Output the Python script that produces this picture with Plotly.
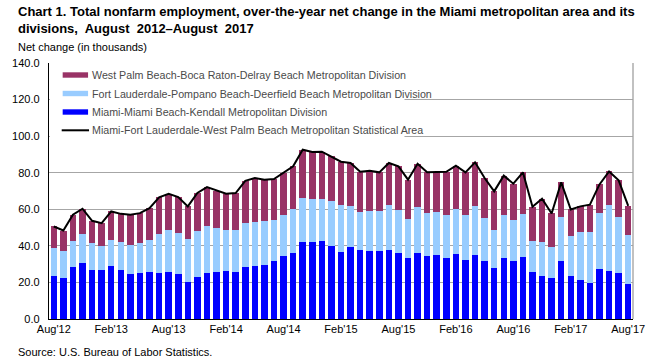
import plotly.graph_objects as go

months = [
    "Aug 2012", "Sep 2012", "Oct 2012", "Nov 2012", "Dec 2012",
    "Jan 2013", "Feb 2013", "Mar 2013", "Apr 2013", "May 2013", "Jun 2013", "Jul 2013",
    "Aug 2013", "Sep 2013", "Oct 2013", "Nov 2013", "Dec 2013",
    "Jan 2014", "Feb 2014", "Mar 2014", "Apr 2014", "May 2014", "Jun 2014", "Jul 2014",
    "Aug 2014", "Sep 2014", "Oct 2014", "Nov 2014", "Dec 2014",
    "Jan 2015", "Feb 2015", "Mar 2015", "Apr 2015", "May 2015", "Jun 2015", "Jul 2015",
    "Aug 2015", "Sep 2015", "Oct 2015", "Nov 2015", "Dec 2015",
    "Jan 2016", "Feb 2016", "Mar 2016", "Apr 2016", "May 2016", "Jun 2016", "Jul 2016",
    "Aug 2016", "Sep 2016", "Oct 2016", "Nov 2016", "Dec 2016",
    "Jan 2017", "Feb 2017", "Mar 2017", "Apr 2017", "May 2017", "Jun 2017", "Jul 2017",
    "Aug 2017",
]

tick_months = ["Aug 2012", "Feb 2013", "Aug 2013", "Feb 2014", "Aug 2014", "Feb 2015",
               "Aug 2015", "Feb 2016", "Aug 2016", "Feb 2017", "Aug 2017"]
tick_labels = ["Aug'12", "Feb'13", "Aug'13", "Feb'14", "Aug'14", "Feb'15",
               "Aug'15", "Feb'16", "Aug'16", "Feb'17", "Aug'17"]

miami = [23.7, 22.6, 28.7, 30.7, 26.8, 26.8, 29.2, 26.8, 24.7, 25.2, 25.8, 25.2,
         25.8, 24.7, 20.3, 23.0, 25.2, 25.8, 26.3, 25.8, 28.5, 29.0, 29.6, 31.8,
         34.5, 36.2, 42.2, 42.2, 42.7, 40.0, 36.7, 39.5, 37.8, 37.3, 37.3, 37.8,
         36.2, 33.4, 36.2, 34.5, 35.1, 33.4, 35.6, 32.3, 35.1, 31.8, 27.9, 33.4,
         31.8, 34.0, 25.8, 23.6, 22.5, 31.8, 23.6, 21.4, 19.7, 27.4, 26.3, 25.2,
         19.2]
fort_lauderdale = [15.4, 14.7, 14.0, 15.9, 14.8, 13.2, 14.1, 15.4, 15.8, 16.4, 17.5, 21.4,
                   23.0, 22.4, 23.5, 25.2, 25.8, 24.1, 22.5, 23.0, 24.1, 24.2, 24.1, 22.4,
                   22.5, 24.1, 24.1, 23.6, 23.1, 24.8, 25.8, 22.4, 20.8, 21.9, 21.9, 24.7,
                   23.5, 21.4, 25.2, 23.6, 23.5, 23.6, 24.7, 24.7, 26.8, 23.5, 20.9, 23.6,
                   22.4, 23.5, 16.9, 18.6, 17.0, 24.1, 21.9, 26.3, 28.0, 30.7, 36.2, 30.7,
                   26.8]
west_palm = [11.5, 11.1, 14.3, 13.7, 12.1, 12.4, 15.5, 15.3, 16.5, 16.3, 17.3, 19.9,
             19.7, 19.6, 17.8, 20.7, 21.1, 20.2, 19.7, 20.1, 23.0, 23.9, 22.5, 22.3,
             22.8, 23.2, 26.3, 25.5, 25.7, 24.1, 23.5, 23.4, 21.9, 21.9, 21.0, 22.8,
             23.8, 21.4, 23.5, 22.1, 21.6, 23.5, 23.5, 23.2, 23.8, 21.8, 21.0, 21.4,
             19.8, 22.7, 18.7, 23.6, 18.2, 18.8, 14.4, 13.9, 14.8, 15.5, 18.2, 19.9,
             15.9]
msa_total = [50.6, 48.4, 57.0, 60.3, 53.7, 52.4, 58.8, 57.5, 57.0, 57.9, 60.6, 66.5,
             68.5, 66.7, 61.6, 68.9, 72.1, 70.1, 68.5, 68.9, 75.6, 77.1, 76.2, 76.5,
             79.8, 83.5, 92.6, 91.3, 91.5, 88.9, 86.0, 85.3, 80.5, 81.1, 80.2, 85.3,
             83.5, 76.2, 84.9, 80.2, 80.2, 80.5, 83.8, 80.2, 85.7, 77.1, 69.8, 78.4,
             74.0, 80.2, 61.4, 65.8, 57.7, 74.7, 59.9, 61.6, 62.5, 73.6, 80.7, 75.8,
             61.9]

names = [
    "West Palm Beach-Boca Raton-Delray Beach Metropolitan Division",
    "Fort Lauderdale-Pompano Beach-Deerfield Beach Metropolitan Division",
    "Miami-Miami Beach-Kendall Metropolitan Division",
    "Miami-Fort Lauderdale-West Palm Beach Metropolitan Statistical Area",
]
title_lines = [
    "Chart 1. Total nonfarm employment, over-the-year net change in the Miami metropolitan area and its",
    "divisions,  August  2012–August  2017",
]
C_WPB = "#993366"
C_FTL = "#99CCFF"
C_MIA = "#0000FF"
C_MSA = "#000000"

W, H = 657, 361
L, R, T, B = 38, 21, 63, 42
PW, PH = W - L - R, H - T - B


def px_x(px):
    return (px - L) / PW


def px_y(py):
    return (H - B - py) / PH


fig = go.Figure()
fig.add_trace(go.Bar(x=months, y=miami, name=names[2], marker=dict(color=C_MIA, line=dict(width=0)), showlegend=False))
fig.add_trace(go.Bar(x=months, y=fort_lauderdale, name=names[1], marker=dict(color=C_FTL, line=dict(width=0)), showlegend=False))
fig.add_trace(go.Bar(x=months, y=west_palm, name=names[0], marker=dict(color=C_WPB, line=dict(width=0)), showlegend=False))
fig.add_trace(go.Scatter(x=months, y=msa_total, name=names[3], mode="lines",
                         line=dict(color=C_MSA, width=2), showlegend=False))

FONT = "Arial, Liberation Sans, sans-serif"
TFONT = "Liberation Sans Narrow, Arial Narrow, Liberation Sans, sans-serif"

shapes = []
annotations = []
# legend background
shapes.append(dict(type="rect", xref="paper", yref="paper", x0=px_x(39), x1=px_x(402),
                   y0=px_y(137), y1=px_y(62), fillcolor="white", line=dict(width=0), layer="above"))
# right border
shapes.append(dict(type="line", xref="paper", yref="paper", x0=1, x1=1, y0=0, y1=1,
                   line=dict(color="#A0A0A0", width=1.3), layer="above"))
rows = [75, 93.5, 112, 130.3]
colors = [C_WPB, C_FTL, C_MIA]
for i, nm in enumerate(names):
    cy = rows[i]
    if i < 3:
        shapes.append(dict(type="rect", xref="paper", yref="paper", x0=px_x(52), x1=px_x(78),
                           y0=px_y(cy + 2.7), y1=px_y(cy - 2.7), fillcolor=colors[i],
                           line=dict(width=0), layer="above"))
    else:
        shapes.append(dict(type="line", xref="paper", yref="paper", x0=px_x(51), x1=px_x(79),
                           y0=px_y(cy), y1=px_y(cy), line=dict(color=C_MSA, width=2), layer="above"))
    annotations.append(dict(text=nm, xref="paper", yref="paper", x=px_x(80), y=px_y(cy),
                            xanchor="left", yanchor="middle", showarrow=False,
                            font=dict(family=FONT, size=10.7, color="#4A4A4A")))

annotations.append(dict(text="<b>" + title_lines[0] + "</b>", xref="paper", yref="paper",
                        x=px_x(4), y=px_y(11), xanchor="left", yanchor="middle", showarrow=False,
                        font=dict(family=TFONT, size=13, color="black")))
annotations.append(dict(text="<b>" + title_lines[1] + "</b>", xref="paper", yref="paper",
                        x=px_x(4), y=px_y(28), xanchor="left", yanchor="middle", showarrow=False,
                        font=dict(family=TFONT, size=13, color="black")))
annotations.append(dict(text="Net change (in thousands)", xref="paper", yref="paper",
                        x=px_x(4), y=px_y(47), xanchor="left", yanchor="middle", showarrow=False,
                        font=dict(family=FONT, size=11, color="black")))
annotations.append(dict(text="Source: U.S. Bureau of Labor Statistics.", xref="paper", yref="paper",
                        x=px_x(4), y=px_y(352), xanchor="left", yanchor="middle", showarrow=False,
                        font=dict(family=FONT, size=11, color="black")))

fig.update_layout(
    width=W, height=H,
    margin=dict(l=L, r=R, t=T, b=B),
    paper_bgcolor="white", plot_bgcolor="white",
    barmode="stack", bargap=0.32,
    shapes=shapes, annotations=annotations,
    showlegend=False,
)
fig.update_xaxes(
    type="category", categoryorder="array", categoryarray=months,
    range=[-0.5, len(months) - 0.5],
    tickmode="array", tickvals=tick_months, ticktext=tick_labels,
    showgrid=False, showline=True, linecolor="black", linewidth=1.3, ticks="",
    tickfont=dict(family=FONT, size=11, color="black"), tickangle=0,
)
fig.update_yaxes(
    range=[0, 140], tickmode="linear", tick0=0, dtick=20, tickformat=".1f",
    showgrid=True, gridcolor="#A6A6A6", gridwidth=1,
    showline=True, linecolor="black", linewidth=1.3, ticks="",
    zeroline=False, ticklabelstandoff=6,
    tickfont=dict(family=FONT, size=11, color="black"),
)

fig.write_html("out.html", config={"displayModeBar": False},
               post_script="document.body.style.margin='0';document.body.style.padding='0';")
